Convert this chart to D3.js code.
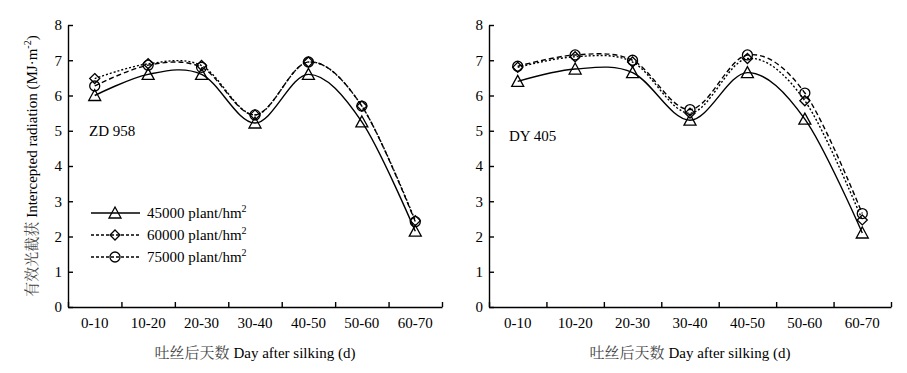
<!DOCTYPE html>
<html>
<head>
<meta charset="utf-8">
<script src="https://cdn.jsdelivr.net/npm/d3@7"></script>
</head>
<body style="margin:0; background:#fff">
<div id="chart"></div>
<script>
// Categories and tick labels
var periods = ["0-10", "10-20", "20-30", "30-40", "40-50", "50-60", "60-70"];
var yTicks = [0, 1, 2, 3, 4, 5, 6, 7, 8];
var densities = ["45000", "60000", "75000"];

// ZD 958 values
var zd45 = [6.0, 6.6, 6.6, 5.22, 6.6, 5.25, 2.15];
var zd60 = [6.48, 6.9, 6.85, 5.45, 6.95, 5.7, 2.45];
var zd75 = [6.27, 6.86, 6.8, 5.45, 6.95, 5.7, 2.42];

// DY 405 values
var dy45 = [6.4, 6.75, 6.65, 5.3, 6.65, 5.33, 2.1];
var dy60 = [6.8, 7.1, 6.95, 5.5, 7.05, 5.85, 2.47];
var dy75 = [6.83, 7.15, 7.0, 5.6, 7.15, 6.07, 2.65];

var svgWidth = 907;
var svgHeight = 373;
var serif = "Liberation Serif";
var cnFont = "Noto Serif CJK SC";

var svg = d3.select("#chart").append("svg")
            .attr("width", svgWidth)
            .attr("height", svgHeight)
            .attr("font-family", serif);

// Line / marker styles per density
var dashes = [null, "2,2", "5,3"];
var markers = ["triangle", "diamond", "circle"];

function drawMarker(g, type, x, y) {
  if (type === "triangle") {
    g.append("path")
     .attr("d", `M${x},${y - 6}L${x + 6},${y + 5}L${x - 6},${y + 5}Z`)
     .attr("fill", "none").attr("stroke", "#000").attr("stroke-width", 1.3);
  } else if (type === "diamond") {
    g.append("path")
     .attr("d", `M${x},${y - 5}L${x + 5},${y}L${x},${y + 5}L${x - 5},${y}Z`)
     .attr("fill", "none").attr("stroke", "#000").attr("stroke-width", 1.3);
  } else {
    g.append("circle")
     .attr("cx", x).attr("cy", y).attr("r", 5)
     .attr("fill", "none").attr("stroke", "#000").attr("stroke-width", 1.3);
  }
}

function drawPanel(x0, x1, label, labelX, labelY, series, showLegend) {
  var top = 25, bottom = 307;

  var x = d3.scaleBand().domain(periods).range([x0, x1]);
  var xTick = d3.scaleLinear().domain([0, periods.length]).range([x0, x1]);
  var y = d3.scaleLinear().domain([0, 8]).range([bottom, top]);

  var g = svg.append("g");

  // x axis, ticks between categories, pointing up
  g.append("g")
   .attr("transform", `translate(0, ${bottom})`)
   .call(d3.axisBottom(xTick).tickValues(d3.range(periods.length + 1))
           .tickFormat("").tickSizeInner(-5).tickSizeOuter(0))
   .call(a => a.selectAll("path, line").attr("stroke", "#000").attr("stroke-width", 1.4));

  g.selectAll(".xlab")
   .data(periods)
   .enter()
   .append("text")
   .attr("x", d => x(d) + x.bandwidth() / 2)
   .attr("y", 328)
   .attr("text-anchor", "middle")
   .attr("font-size", "15px")
   .text(d => d);

  // y axis, ticks pointing right
  g.append("g")
   .attr("transform", `translate(${x0}, 0)`)
   .call(d3.axisLeft(y).tickValues(yTicks).tickFormat(d3.format("d"))
           .tickSizeInner(-5).tickSizeOuter(0).tickPadding(6))
   .attr("font-family", serif)
   .attr("font-size", 15)
   .call(a => a.selectAll("path, line").attr("stroke", "#000").attr("stroke-width", 1.4))
   .call(a => a.selectAll("text").attr("fill", "#000"));

  // x axis title
  var xt = g.append("text")
            .attr("x", (x0 + x1) / 2)
            .attr("y", 358)
            .attr("text-anchor", "middle")
            .attr("font-size", "15px");
  xt.append("tspan").attr("font-family", cnFont).attr("fill", "#444").text("吐丝后天数 ");
  xt.append("tspan").text("Day after silking (d)");

  // panel label
  g.append("text")
   .attr("x", labelX)
   .attr("y", labelY)
   .attr("font-size", "15px")
   .text(label);

  // lines
  var line = d3.line()
               .x((d, i) => x(periods[i]) + x.bandwidth() / 2)
               .y(d => y(d))
               .curve(d3.curveCardinal.tension(0));

  series.forEach(function(vals, k) {
    g.append("path")
     .datum(vals)
     .attr("d", line)
     .attr("fill", "none")
     .attr("stroke", "#000")
     .attr("stroke-width", 1.4)
     .attr("stroke-dasharray", dashes[k]);
  });

  series.forEach(function(vals, k) {
    vals.forEach(function(v, i) {
      drawMarker(g, markers[k], x(periods[i]) + x.bandwidth() / 2, y(v));
    });
  });

  // legend
  if (showLegend) {
    var rows = [213, 235, 257];
    densities.forEach(function(dn, k) {
      var ly = rows[k];
      g.append("line")
       .attr("x1", 91).attr("x2", 140)
       .attr("y1", ly).attr("y2", ly)
       .attr("stroke", "#000").attr("stroke-width", 1.4)
       .attr("stroke-dasharray", dashes[k] ? "3,2" : null);
      drawMarker(g, markers[k], 115, ly);
      var t = g.append("text")
               .attr("x", 147)
               .attr("y", ly + 5)
               .attr("font-size", "15px");
      t.append("tspan").text(dn + " plant/hm");
      t.append("tspan").attr("font-size", "10px").attr("dy", -6).text("2");
    });
  }
}

drawPanel(68, 442, "ZD 958", 89, 136, [zd45, zd60, zd75], true);
drawPanel(489, 891, "DY 405", 509, 141, [dy45, dy60, dy75], false);

// y axis title (shared, left)
var yt = svg.append("text")
            .attr("transform", "translate(37, 166) rotate(-90)")
            .attr("text-anchor", "middle")
            .attr("font-size", "15px");
yt.append("tspan").attr("font-family", cnFont).attr("fill", "#444").text("有效光截获 ");
yt.append("tspan").text("Intercepted radiation (MJ·m");
yt.append("tspan").attr("font-size", "10px").attr("dy", -6).text("-2");
yt.append("tspan").attr("dy", 6).text(")");
</script>
</body>
</html>
